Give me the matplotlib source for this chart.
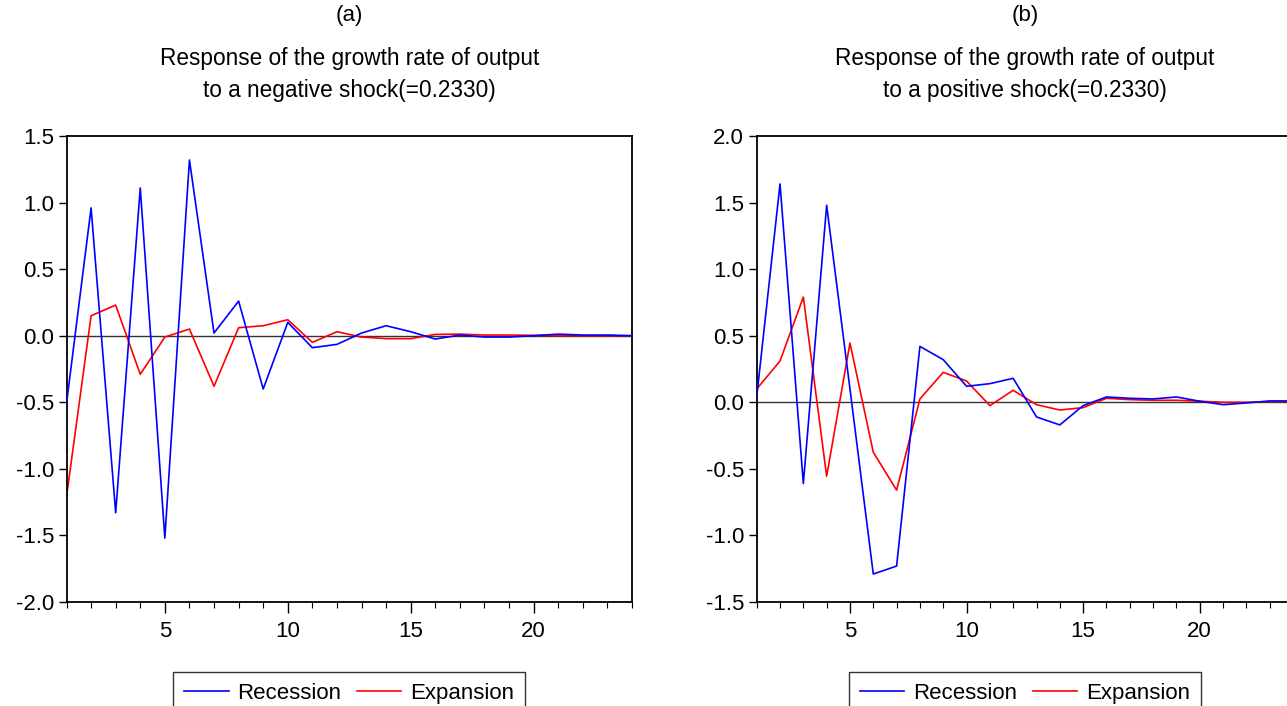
import numpy as np
import matplotlib
matplotlib.use("Agg")
import matplotlib.pyplot as plt
from matplotlib.ticker import MultipleLocator, FormatStrFormatter

# === DATA ===
periods = list(range(1, 25))

neg_recession = [-0.51, 0.96, -1.33, 1.11, -1.52, 1.32, 0.02, 0.26, -0.40, 0.10,
                 -0.09, -0.065, 0.02, 0.075, 0.03, -0.025, 0.005, -0.01, -0.01, 0.0,
                 0.012, 0.005, 0.005, 0.0]
neg_expansion = [-1.21, 0.15, 0.23, -0.29, -0.01, 0.05, -0.38, 0.06, 0.075, 0.12,
                 -0.05, 0.03, -0.01, -0.022, -0.022, 0.01, 0.012, 0.005, 0.005, 0.003,
                 0.0, 0.0, 0.0, 0.0]

pos_recession = [0.04, 1.64, -0.61, 1.48, 0.10, -1.29, -1.23, 0.42, 0.32, 0.12,
                 0.14, 0.18, -0.11, -0.17, -0.025, 0.04, 0.03, 0.025, 0.04, 0.008,
                 -0.018, -0.005, 0.01, 0.01]
pos_expansion = [0.10, 0.31, 0.79, -0.555, 0.445, -0.375, -0.66, 0.025, 0.225, 0.16,
                 -0.025, 0.09, -0.018, -0.058, -0.04, 0.03, 0.02, 0.015, 0.015, 0.008,
                 0.0, 0.0, 0.005, 0.005]

panel_tags = ["(a)", "(b)"]
title_line1 = "Response of the growth rate of output"
title_line2 = ["to a negative shock(=0.2330)", "to a positive shock(=0.2330)"]
ylims = [(-2.0, 1.5), (-1.5, 2.0)]
series_labels = ["Recession", "Expansion"]

# === FIGURE ===
plt.rcParams['font.family'] = ['Liberation Sans', 'DejaVu Sans']
W, H = 1287, 706
fig = plt.figure(figsize=(W / 100, H / 100), dpi=100)

# panel boxes in pixels: (left, right); right panel runs past the image edge
boxes = [(66.5, 632.0), (756.7, 1293.0)]
top_px, bot_px = 136.0, 602.0
legend_top_px = 672.0

panels = [(neg_recession, neg_expansion), (pos_recession, pos_expansion)]

for i, ((l, r), (rec, exp)) in enumerate(zip(boxes, panels)):
    ax = fig.add_axes([l / W, 1 - bot_px / H, (r - l) / W, (bot_px - top_px) / H])
    ax.axhline(0, color='#333333', lw=1.0, zorder=1)
    h1, = ax.plot(periods, rec, color='#0000ff', lw=1.2, label=series_labels[0], zorder=3)
    h2, = ax.plot(periods, exp, color='#ff0000', lw=1.2, label=series_labels[1], zorder=2)

    ax.set_xlim(1, 24)
    ax.set_ylim(*ylims[i])
    ax.xaxis.set_major_locator(MultipleLocator(5))
    ax.xaxis.set_minor_locator(MultipleLocator(1))
    ax.yaxis.set_major_locator(MultipleLocator(0.5))
    ax.yaxis.set_major_formatter(FormatStrFormatter('%.1f'))
    ax.tick_params(axis='x', which='major', length=8, width=1.0, labelsize=16, pad=6)
    ax.tick_params(axis='x', which='minor', length=4, width=0.8)
    ax.tick_params(axis='y', which='major', length=6, width=1.0, labelsize=16, pad=3)
    for s in ax.spines.values():
        s.set_linewidth(1.3)
        s.set_color('black')

    # titles, one line at a time
    cx = (l + r) / 2 / W
    fig.text(cx, 1 - 16 / H, panel_tags[i], ha='center', va='center', fontsize=16)
    fig.text(cx, 1 - 58 / H, title_line1, ha='center', va='center', fontsize=16.3)
    fig.text(cx, 1 - 91 / H, title_line2[i], ha='center', va='center', fontsize=16.3)

    fig.legend(handles=[h1, h2], loc='upper center',
               bbox_to_anchor=(cx, 1 - legend_top_px / H), ncol=2,
               fontsize=16, frameon=True, fancybox=False, edgecolor='black',
               handlelength=2.0, handletextpad=0.4, columnspacing=0.7,
               borderpad=0.5, borderaxespad=0.0)

for leg in fig.legends:
    leg.get_frame().set_linewidth(1.0)

fig.savefig("out.png", dpi=100)
